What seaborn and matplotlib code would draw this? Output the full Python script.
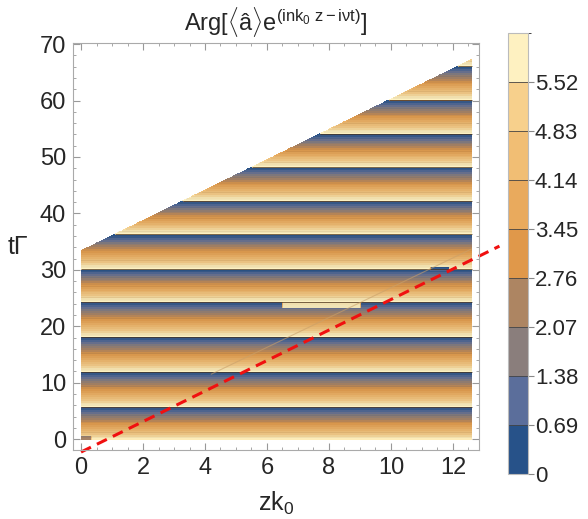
import numpy as np
import matplotlib
matplotlib.use("Agg")
import matplotlib.pyplot as plt
import seaborn as sns
from matplotlib.colors import ListedColormap, BoundaryNorm, LinearSegmentedColormap
from matplotlib.cm import ScalarMappable
from matplotlib.ticker import MultipleLocator

# colour bins of the legend (0 -> 6.21 in steps of 0.69)
bin_colors = ['#275289', '#5b6e9b', '#8a7e7c', '#ad8562', '#e0984a',
              '#e9aa5d', '#f1be74', '#f7d08c', '#fef1c1']
cbar_ticks = [0, 0.69, 1.38, 2.07, 2.76, 3.45, 4.14, 4.83, 5.52]
cbar_top = 6.21

wrap_t = [-0.35, 5.7, 11.9, 18.1, 24.3, 30.1, 36.3, 42.2, 48.2, 54.1, 60.1, 66.1, 72.1]

# upper edge of the computed region, light cone (dashed), faint kink line
edge_z = [0.0, 12.6]
edge_t = [33.4, 67.3]
cone_z = [0.0, 13.5]
cone_t = [-2.3, 34.2]
faint_z = [4.2, 12.6]
faint_t = [11.5, 33.7]

# small numerical glitches near the branch cut
glitch_z0 = [0.0, 6.5, 11.26]
glitch_z1 = [0.35, 9.0, 11.9]
glitch_t0 = [0.0, 23.3, 29.9]
glitch_t1 = [0.6, 24.45, 30.7]
glitch_dphi = [-3.6, -1.0, 0.55]

two_pi = 2 * np.pi

sns.set_style("ticks")
plt.rcParams['font.family'] = ['Liberation Sans', 'DejaVu Sans']
plt.rcParams['mathtext.fontset'] = 'custom'
plt.rcParams['mathtext.rm'] = 'Liberation Sans'
plt.rcParams['mathtext.it'] = 'Liberation Sans:italic'

# phase field on a grid
z = np.linspace(0, edge_z[-1], 420)
t = np.linspace(0, edge_t[-1], 3400)
Z, T = np.meshgrid(z, t)
cyc = np.interp(T, wrap_t, np.arange(len(wrap_t)))
phi = two_pi * (1 - (cyc % 1))
for z0, z1, t0, t1, d in zip(glitch_z0, glitch_z1, glitch_t0, glitch_t1, glitch_dphi):
    m = (Z >= z0) & (Z <= z1) & (T >= t0) & (T <= t1)
    phi[m] = (phi[m] + d) % two_pi
outside = T > np.interp(Z, edge_z, edge_t)
phi = np.ma.masked_where(outside, phi)
unwrapped = np.ma.masked_where(outside, cyc * 18)

# smooth map anchored at the bin centres
pos = [(k + 0.5) * 0.69 / two_pi for k in range(9)]
cmap = LinearSegmentedColormap.from_list(
    "arg", [(0, bin_colors[0])] + list(zip(pos, bin_colors)) + [(1, bin_colors[-1])])

fig = plt.figure(figsize=(5.88, 5.19), dpi=100)
ax = fig.add_axes([0.1241, 0.1329, 0.6905, 0.7842])

levels = np.linspace(0, two_pi, 19)
ax.contourf(Z, T, phi, levels=levels, cmap=cmap, vmin=0, vmax=two_pi)
n_cyc = len(wrap_t) - 1
fine = [k for k in range(1, 18 * n_cyc) if k % 18]
ax.contour(Z, T, unwrapped, levels=fine, colors='#5a4630', linewidths=0.35, alpha=0.3)
ax.contour(Z, T, unwrapped, levels=list(range(18, 18 * n_cyc, 18)),
           colors='#4a3520', linewidths=0.7, alpha=0.75)
ax.plot(faint_z, faint_t, color='#c9a06a', lw=0.8, alpha=0.6)
ax.plot(cone_z, cone_t, color='#f01010', lw=2.2, dashes=(3.6, 2.2), clip_on=False)

ax.set_xlim(-0.26, 12.84)
ax.set_ylim(-1.94, 70.2)
ax.set_xticks(range(0, 13, 2))
ax.set_yticks(range(0, 71, 10))
ax.xaxis.set_minor_locator(MultipleLocator(0.5))
ax.yaxis.set_minor_locator(MultipleLocator(2))
ax.tick_params(which='both', direction='in', top=True, right=True, color='#999999')
ax.tick_params(which='major', length=5, labelsize=17, pad=5)
ax.tick_params(which='minor', length=2.5)
for s in ax.spines.values():
    s.set_color('#aaaaaa')

ax.set_title('Arg[$\\langle$â$\\rangle$e$^{(\\mathrm{ink_0\\ z-iνt})}$]', fontsize=17, pad=9)
ax.set_xlabel('zk$_0$', fontsize=18, labelpad=8)
ax.set_ylabel('tΓ', fontsize=18, rotation=0, ha='right', va='center')
ax.yaxis.set_label_coords(-0.11, 0.5)

# legend bar
cax = fig.add_axes([0.8639, 0.0867, 0.034, 0.8497])
norm = BoundaryNorm([0.69 * k for k in range(9)] + [cbar_top], 9)
sm = ScalarMappable(norm=norm, cmap=ListedColormap(bin_colors))
cb = fig.colorbar(sm, cax=cax, ticks=cbar_ticks, drawedges=True)
cb.ax.set_yticklabels([f'{v:g}' for v in cbar_ticks])
cb.dividers.set_color('#444444')
cb.dividers.set_linewidth(0.6)
cb.outline.set_edgecolor('#bbbbbb')
cb.ax.tick_params(length=4, color='#888888', labelsize=16, pad=1)

fig.savefig("out.png", dpi=100)
